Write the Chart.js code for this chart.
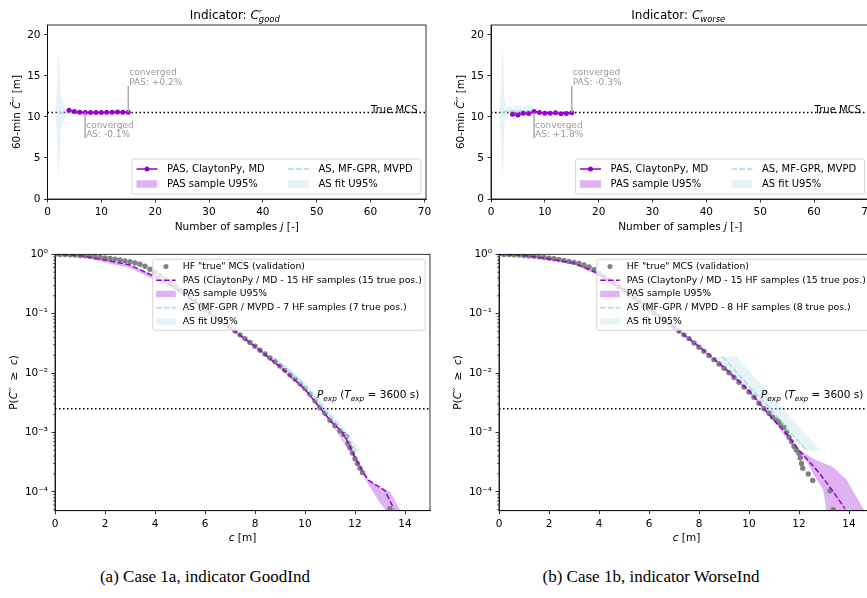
<!DOCTYPE html>
<html>
<head>
<meta charset="utf-8">
<script src="https://cdn.jsdelivr.net/npm/chart.js@4.4.1/dist/chart.umd.min.js"></script>
<style>
  html, body { margin: 0; padding: 0; background: #fff; width: 867px; height: 598px; overflow: hidden; position: relative; }
  canvas { position: absolute; }
  .cap { position: absolute; top: 567px; font-family: "Liberation Serif", "DejaVu Serif", serif; font-size: 17px; color: #000; white-space: nowrap; transform: translateX(-50%); }
</style>
</head>
<body>
<canvas id="convGood" width="440" height="240" style="left:0;top:0"></canvas>
<canvas id="convWorse" width="440" height="240" style="left:440px;top:0"></canvas>
<canvas id="tailGood" width="440" height="320" style="left:0;top:240px"></canvas>
<canvas id="tailWorse" width="440" height="320" style="left:440px;top:240px"></canvas>
<div class="cap" style="left:205px">(a) Case 1a, indicator GoodInd</div>
<div class="cap" style="left:651px">(b) Case 1b, indicator WorseInd</div>
<script>
// Upper row: 60-min estimate vs number of HF samples
const jTicks = [0, 10, 20, 30, 40, 50, 60, 70];
const estTicks = [0, 5, 10, 15, 20];

const convGoodPasJ = [4, 5, 6, 7, 8, 9, 10, 11, 12, 13, 14, 15];
const convGoodPasV = [10.8, 10.65, 10.58, 10.55, 10.55, 10.55, 10.55, 10.56, 10.58, 10.6, 10.57, 10.57];
const convGoodAsJ = [2, 3, 4, 5, 6, 7];
const convGoodAsV = [10.55, 10.5, 10.48, 10.45, 10.5, 10.54];
const convGoodBandJ = [1.39, 1.7, 1.89, 2.0, 2.2, 2.45, 3.56, 7, 7, 3.56, 2.45, 2.2, 2.0, 1.89, 1.7, 1.39];
const convGoodBandV = [10.6, 12.5, 16.5, 18.4, 16.5, 12.5, 10.68, 10.65, 10.45, 10.42, 8.6, 4.6, 2.7, 4.6, 8.6, 10.5];
const convGoodTrue = 10.55;
const convGoodAsMark = [7, 7.4];
const convGoodPasMark = [15, 13.8];

const convWorsePasJ = [4, 5, 6, 7, 8, 9, 10, 11, 12, 13, 14, 15];
const convWorsePasV = [10.33, 10.22, 10.45, 10.42, 10.65, 10.53, 10.45, 10.45, 10.5, 10.4, 10.42, 10.52];
const convWorseAsJ = [2, 3, 4, 5, 6, 7, 8];
const convWorseAsV = [10.55, 10.72, 10.72, 10.73, 10.73, 10.74, 10.74];
const convWorseBandJ = [1.5, 1.8, 1.95, 2.1, 2.3, 2.5, 2.9, 7.8, 8.0, 8.0, 7.8, 2.9, 2.5, 2.3, 2.1, 1.95, 1.8, 1.5];
const convWorseBandV = [10.6, 12.5, 16.5, 18.4, 16.5, 12.0, 11.35, 11.35, 10.9, 10.55, 10.15, 10.1, 9.4, 4.6, 2.7, 4.6, 8.6, 10.5];
const convWorseTrue = 10.55;
const convWorseAsMark = [8, 7.4];
const convWorsePasMark = [15, 13.8];

// Lower row: exceedance probability curves
const cTicks = [0, 2, 4, 6, 8, 10, 12, 14];
const pTicks = [1e-4, 1e-3, 1e-2, 1e-1, 1];
const pTickLabels = ['10\u207B\u2074', '10\u207B\u00B3', '10\u207B\u00B2', '10\u207B\u00B9', '10\u2070'];
const pExp = 0.0025;

const goodMcsC = [0, 0.2, 0.4, 0.6, 0.8, 1, 1.2, 1.4, 1.6, 1.8, 2, 2.2, 2.4, 2.6, 2.8, 3, 3.2, 3.4, 3.6, 3.8,
  4, 4.2, 4.4, 4.6, 4.8, 5, 5.2, 5.4, 5.6, 5.8, 6, 6.2, 6.4, 6.6, 6.8, 7, 7.2, 7.4, 7.6, 7.8,
  8, 8.2, 8.4, 8.6, 8.8, 9, 9.2, 9.4, 9.6, 9.8, 10, 10.2, 10.4, 10.6, 10.8, 11, 11.2, 11.4,
  11.55, 11.65, 11.72, 11.8, 11.9, 12, 12.1, 12.2, 12.3, 13.4];
const goodMcsP = [1, 0.995, 0.99, 0.982, 0.97, 0.955, 0.942, 0.927, 0.91, 0.89, 0.87, 0.85, 0.83, 0.8, 0.776, 0.748, 0.716, 0.68, 0.63, 0.56,
  0.49, 0.43, 0.38, 0.33, 0.29, 0.25, 0.216, 0.186, 0.16, 0.138, 0.119, 0.102, 0.089, 0.078, 0.068, 0.059, 0.051, 0.044, 0.038, 0.0327,
  0.0282, 0.0243, 0.0209, 0.018, 0.0155, 0.0132, 0.0111, 0.0093, 0.0079, 0.0066, 0.0055, 0.0044, 0.0034, 0.0026, 0.0021, 0.0016, 0.0013, 0.00105,
  0.00092, 0.00085, 0.00065, 0.00055, 0.00045, 0.00036, 0.0003, 0.00025, 0.00021, 0.000052];
const goodPasC = [0, 1, 2, 3, 4, 5, 6, 7, 8, 9, 10, 10.6, 11, 11.5, 11.7, 12, 12.3, 12.55, 13.2, 13.55];
const goodPasP = [1, 0.95, 0.8, 0.66, 0.42, 0.24, 0.118, 0.058, 0.028, 0.0128, 0.0053, 0.0026, 0.0016, 0.001, 0.0007, 0.00038, 0.00022, 0.000155, 0.000105, 0.000052];
const goodPasBandC = [0, 1, 2, 3, 4, 5, 6, 8, 10, 11, 12, 12.5, 13.0, 13.4, 13.8,
  13.8, 13.3, 13.0, 12.5, 12, 11, 10, 8, 6, 5, 4, 3, 2, 1, 0];
const goodPasBandP = [1, 0.965, 0.81, 0.67, 0.43, 0.245, 0.121, 0.0288, 0.0055, 0.00165, 0.0004, 0.000165, 0.000118, 0.0001, 0.00005,
  0.00004, 0.000045, 0.000065, 0.00014, 0.00035, 0.00153, 0.0051, 0.0272, 0.114, 0.225, 0.37, 0.59, 0.73, 0.93, 1];
const goodAsC = [8.8, 9.5, 10.2, 10.9, 11.5, 12.1];
const goodAsP = [0.018, 0.0095, 0.0049, 0.0021, 0.0011, 0.00045];
const goodAsBandC = [8.6, 9.5, 10.2, 10.9, 11.5, 12.15, 12.15, 11.5, 10.9, 10.2, 9.5, 8.9];
const goodAsBandP = [0.02, 0.0112, 0.0058, 0.0025, 0.0013, 0.00055, 0.00042, 0.00095, 0.0018, 0.0042, 0.0082, 0.016];

const worseMcsC = [0, 0.2, 0.4, 0.6, 0.8, 1, 1.2, 1.4, 1.6, 1.8, 2, 2.2, 2.4, 2.6, 2.8, 3, 3.2, 3.4, 3.6, 3.8,
  4, 4.2, 4.4, 4.6, 4.8, 5, 5.2, 5.4, 5.6, 5.8, 6, 6.2, 6.4, 6.6, 6.8, 7, 7.2, 7.4, 7.6, 7.8,
  8, 8.2, 8.4, 8.6, 8.8, 9, 9.2, 9.4, 9.6, 9.8, 10, 10.2, 10.4, 10.6, 10.8, 10.95, 11.1, 11.2, 11.3, 11.4,
  11.5, 11.6, 11.7, 11.8, 11.9, 12, 12.05, 12.1, 12.15, 12.37, 12.55, 13.24, 13.37];
const worseMcsP = [1, 0.995, 0.99, 0.982, 0.97, 0.955, 0.94, 0.924, 0.905, 0.885, 0.862, 0.84, 0.815, 0.788, 0.76, 0.73, 0.7, 0.66, 0.61, 0.55,
  0.48, 0.42, 0.37, 0.325, 0.285, 0.248, 0.215, 0.186, 0.16, 0.138, 0.119, 0.102, 0.089, 0.078, 0.068, 0.059, 0.051, 0.044, 0.038, 0.032,
  0.0272, 0.0232, 0.0198, 0.0168, 0.0142, 0.012, 0.0101, 0.0084, 0.007, 0.0058, 0.0048, 0.0039, 0.0031, 0.0025, 0.0021, 0.0018, 0.0016, 0.00148, 0.00135, 0.00122,
  0.001, 0.00083, 0.0007, 0.00058, 0.0005, 0.00044, 0.00037, 0.0003, 0.00025, 0.0002, 0.000155, 0.000104, 0.00005];
const worsePasC = [0, 1, 2, 3, 4, 5, 6, 7, 8, 9, 10, 10.6, 11, 11.5, 12, 12.17, 12.84, 13.37, 13.84];
const worsePasP = [1, 0.955, 0.84, 0.71, 0.47, 0.25, 0.122, 0.059, 0.028, 0.0125, 0.005, 0.0025, 0.0016, 0.00095, 0.0005, 0.00042, 0.0002, 0.0001, 0.000052];
const worsePasBandC = [0, 1, 2, 3, 4, 5, 6, 8, 10, 11, 11.9, 12.57, 13.37, 13.9, 14.6,
  14.6, 13.1, 13.08, 12.97, 12.64, 12.31, 11.9, 11, 10, 8, 6, 5, 4, 3, 2, 1, 0];
const worsePasBandP = [1, 0.96, 0.845, 0.715, 0.48, 0.255, 0.125, 0.0288, 0.0052, 0.00165, 0.00055, 0.00036, 0.00026, 0.00016, 0.00005,
  0.00004, 0.00004, 0.000053, 0.000107, 0.00018, 0.00032, 0.00048, 0.00153, 0.0048, 0.027, 0.118, 0.24, 0.44, 0.67, 0.8, 0.935, 1];
const worseAsC = [8.95, 9.6, 10.3, 10.9, 11.6, 12.3];
const worseAsP = [0.0188, 0.0093, 0.0044, 0.0024, 0.00107, 0.0005];
const worseAsBandC = [8.65, 9.5, 12.85, 12.25];
const worseAsBandP = [0.0188, 0.0188, 0.0005, 0.0005];

const VIOLET = '#9400d3';
const LBLUE = '#add8e6';
const VIOLET_FILL = 'rgba(148,0,211,0.3)';
const BLUE_FILL = 'rgba(173,216,230,0.3)';
const FONT = '"DejaVu Sans", sans-serif';

Chart.defaults.font.family = FONT;
Chart.defaults.color = '#000';

const zip = (xs, ys) => xs.map((x, i) => ({ x, y: ys[i] }));

function shapeSet(xs, ys, color) {
  return { data: zip(xs, ys), fill: 'shape', backgroundColor: color, borderColor: 'rgba(0,0,0,0)', borderWidth: 0, pointRadius: 0, tension: 0 };
}
function dashSet(xs, ys, color) {
  return { data: zip(xs, ys), fill: false, borderColor: color, borderWidth: 1.5, borderDash: [5.5, 2.4], pointRadius: 0, tension: 0 };
}
function dotSet(xs, ys) {
  return { data: zip(xs, ys), showLine: false, pointRadius: 2.7, pointBackgroundColor: '#808080', pointBorderColor: '#808080', pointBorderWidth: 0 };
}
function markLineSet(xs, ys) {
  return { data: zip(xs, ys), fill: false, borderColor: VIOLET, borderWidth: 1.5, pointRadius: 2.5,
    pointBackgroundColor: VIOLET, pointBorderColor: VIOLET, pointBorderWidth: 0, tension: 0 };
}

function axis(type, min, max, vals, size, horizontal, labelFn) {
  return {
    type, min, max,
    afterBuildTicks: s => { s.ticks = vals.map(v => ({ value: v })); },
    afterFit: s => { if (horizontal) s.height = size; else s.width = size; },
    grid: { display: true, drawOnChartArea: false, drawTicks: true, tickLength: 3.5, tickWidth: 0.8, tickColor: '#000' },
    border: { display: true, color: '#000', width: 0.8 },
    ticks: { padding: 3.5, color: '#000', font: { size: 10.5 }, maxRotation: 0, autoSkip: false, callback: labelFn }
  };
}

// mixed-style text: parts {t, i: italic, s: -1 sub / 1 sup, k: keep x}
function partFont(p, size) {
  return (p.i ? 'italic ' : '') + (p.s ? size * 0.7 : size) + 'px ' + FONT;
}
function richWidth(ctx, parts, size) {
  let w = 0;
  for (const p of parts) {
    ctx.font = partFont(p, size);
    if (!p.k) w += ctx.measureText(p.t).width;
  }
  return w;
}
function drawRich(ctx, parts, x, y, size, align) {
  let cx = x;
  if (align === 'center') cx -= richWidth(ctx, parts, size) / 2;
  ctx.textAlign = 'left';
  ctx.textBaseline = 'alphabetic';
  for (const p of parts) {
    ctx.font = partFont(p, size);
    const dy = p.s === -1 ? size * 0.28 : p.s === 1 ? -size * 0.42 : 0;
    ctx.fillText(p.t, cx, y + dy);
    if (!p.k) cx += ctx.measureText(p.t).width;
  }
}
function drawRotated(ctx, parts, x, y, size) {
  ctx.save();
  ctx.translate(x, y);
  ctx.rotate(-Math.PI / 2);
  drawRich(ctx, parts, 0, size * 0.36, size, 'center');
  ctx.restore();
}

function frame(ctx, a) {
  ctx.save();
  ctx.strokeStyle = '#000';
  ctx.lineWidth = 0.8;
  ctx.strokeRect(a.left, a.top, a.right - a.left, a.bottom - a.top);
  ctx.restore();
}

function legendBox(ctx, x, y, w, h) {
  ctx.save();
  ctx.fillStyle = 'rgba(255,255,255,0.8)';
  ctx.strokeStyle = '#cccccc';
  ctx.lineWidth = 0.8;
  ctx.beginPath();
  ctx.roundRect(x, y, w, h, 2);
  ctx.fill();
  ctx.stroke();
  ctx.restore();
}

function drawHandle(ctx, kind, x0, x1, yc, patchH) {
  ctx.save();
  const mid = (x0 + x1) / 2;
  if (kind === 'vline') {
    ctx.strokeStyle = VIOLET; ctx.lineWidth = 1.5;
    ctx.beginPath(); ctx.moveTo(x0, yc); ctx.lineTo(x1, yc); ctx.stroke();
    ctx.fillStyle = VIOLET;
    ctx.beginPath(); ctx.arc(mid, yc, 2.5, 0, Math.PI * 2); ctx.fill();
  } else if (kind === 'vdash' || kind === 'bdash') {
    ctx.strokeStyle = kind === 'vdash' ? VIOLET : LBLUE; ctx.lineWidth = 1.5;
    ctx.setLineDash([5.5, 2.4]);
    ctx.beginPath(); ctx.moveTo(x0, yc); ctx.lineTo(x1, yc); ctx.stroke();
  } else if (kind === 'vpatch' || kind === 'bpatch') {
    ctx.fillStyle = kind === 'vpatch' ? VIOLET_FILL : BLUE_FILL;
    ctx.fillRect(x0, yc - patchH / 2, x1 - x0, patchH);
  } else if (kind === 'dot') {
    ctx.fillStyle = '#808080';
    ctx.beginPath(); ctx.arc(mid, yc, 2.5, 0, Math.PI * 2); ctx.fill();
  }
  ctx.restore();
}

function legendText(ctx, text, x, yc, size) {
  ctx.fillStyle = '#000';
  ctx.font = size + 'px ' + FONT;
  ctx.textAlign = 'left';
  ctx.textBaseline = 'middle';
  ctx.fillText(text, x, yc);
}

const labelEst = [{ t: '60-min ' }, { t: 'C\u0303\u2032\u2032', i: 1 }, { t: ' [m]' }];
const labelSamples = [{ t: 'Number of samples ' }, { t: 'j', i: 1 }, { t: ' [-]' }];
const labelProb = [{ t: 'P(' }, { t: 'C\u2032\u2032', i: 1 }, { t: '  \u2265  ' }, { t: 'c', i: 1 }, { t: ')' }];
const labelC = [{ t: 'c', i: 1 }, { t: ' [m]' }];
const labelPexp = [{ t: 'P', i: 1 }, { t: 'exp', i: 1, s: -1 }, { t: ' (' }, { t: 'T', i: 1 }, { t: 'exp', i: 1, s: -1 }, { t: ' = 3600 s)' }];

function convDeco(p) {
  return {
    id: 'convDeco',
    beforeDatasetsDraw(chart) {
      const { ctx, chartArea: a, scales: { y } } = chart;
      const ty = y.getPixelForValue(p.trueVal);
      ctx.save();
      ctx.strokeStyle = '#000'; ctx.lineWidth = 1.5; ctx.setLineDash([1.5, 2.5]);
      ctx.beginPath(); ctx.moveTo(a.left, ty); ctx.lineTo(a.right, ty); ctx.stroke();
      ctx.restore();
    },
    afterDatasetsDraw(chart) {
      const { ctx, chartArea: a, scales: { x, y } } = chart;
      const ty = y.getPixelForValue(p.trueVal);
      ctx.save();
      ctx.fillStyle = '#000';
      ctx.font = '10px ' + FONT;
      ctx.textAlign = 'right';
      ctx.textBaseline = 'alphabetic';
      ctx.fillText('True MCS', a.right - 8.5, ty + 0.5);
      // convergence markers with their notes
      for (const [mark, note] of [[p.asMark, p.asNote], [p.pasMark, p.pasNote]]) {
        const mx = x.getPixelForValue(mark[0]);
        const my = y.getPixelForValue(mark[1]);
        ctx.strokeStyle = '#aaaaaa'; ctx.lineWidth = 1.5;
        ctx.beginPath(); ctx.moveTo(mx, ty); ctx.lineTo(mx, my); ctx.stroke();
        ctx.fillStyle = '#999999';
        ctx.font = '9px ' + FONT;
        ctx.textAlign = 'left';
        ctx.textBaseline = 'alphabetic';
        ctx.fillText('converged', mx + 1, my - 10.5);
        ctx.fillText(note, mx + 1, my - 1);
      }
      ctx.restore();
    },
    afterDraw(chart) {
      const { ctx, chartArea: a } = chart;
      frame(ctx, a);
      ctx.save();
      ctx.fillStyle = '#000';
      drawRich(ctx, [{ t: 'Indicator: ' }, { t: 'C', i: 1 }, { t: '\u2032', i: 1, k: 1 }, { t: p.sub, i: 1, s: -1 }],
        (a.left + a.right) / 2 - 2, a.top - 6, 12, 'center');
      drawRich(ctx, labelSamples, (a.left + a.right) / 2, a.bottom + 31, 10.5, 'center');
      drawRotated(ctx, labelEst, a.left - 31, (a.top + a.bottom) / 2, 10.5);
      // legend, lower right
      const bw = 289, bh = 35;
      const bx = a.right - 5 - bw, by = a.bottom - 5 - bh;
      legendBox(ctx, bx, by, bw, bh);
      const rows = [[bx + 4.5, by + 10, 'vline', 'PAS, ClaytonPy, MD'], [bx + 156, by + 10, 'bdash', 'AS, MF-GPR, MVPD'],
        [bx + 4.5, by + 25, 'vpatch', 'PAS sample U95%'], [bx + 156, by + 25, 'bpatch', 'AS fit U95%']];
      for (const [hx, hy, kind, text] of rows) {
        drawHandle(ctx, kind, hx, hx + 21, hy, 7.5);
        legendText(ctx, text, hx + 30.5, hy, 10);
      }
      ctx.restore();
    }
  };
}

function tailDeco(p) {
  return {
    id: 'tailDeco',
    beforeDatasetsDraw(chart) {
      const { ctx, chartArea: a, scales: { y } } = chart;
      const py = y.getPixelForValue(pExp);
      ctx.save();
      ctx.strokeStyle = '#000'; ctx.lineWidth = 1.5; ctx.setLineDash([1.5, 2.5]);
      ctx.beginPath(); ctx.moveTo(a.left, py); ctx.lineTo(a.right, py); ctx.stroke();
      ctx.restore();
    },
    afterDraw(chart) {
      const { ctx, chartArea: a, scales: { x, y } } = chart;
      frame(ctx, a);
      ctx.save();
      // minor ticks of the log axis
      ctx.strokeStyle = '#000'; ctx.lineWidth = 0.6;
      for (let e = -5; e < 0; e++) {
        for (let m = 2; m <= 9; m++) {
          const v = m * Math.pow(10, e);
          if (v < y.min || v > y.max) continue;
          const py = y.getPixelForValue(v);
          ctx.beginPath(); ctx.moveTo(a.left - 2, py); ctx.lineTo(a.left, py); ctx.stroke();
        }
      }
      ctx.fillStyle = '#000';
      drawRich(ctx, labelPexp, x.getPixelForValue(10.48), y.getPixelForValue(pExp) - 11, 10.5, 'left');
      drawRich(ctx, labelC, (a.left + a.right) / 2, a.bottom + 30, 10.5, 'center');
      drawRotated(ctx, labelProb, a.left - 42, (a.top + a.bottom) / 2, 10.5);
      // legend, upper right
      const bw = 272.3, bh = 71;
      const bx = a.right - 5 - bw, by = a.top + 5;
      legendBox(ctx, bx, by, bw, bh);
      const rows = [['dot', 'HF "true" MCS (validation)'],
        ['vdash', 'PAS (ClaytonPy / MD - 15 HF samples (15 true pos.)'],
        ['vpatch', 'PAS sample U95%'],
        ['bdash', p.asLabel],
        ['bpatch', 'AS fit U95%']];
      rows.forEach(([kind, text], i) => {
        const yc = by + 7.3 + i * 13.7;
        drawHandle(ctx, kind, bx + 3.5, bx + 23, yc, 6.5);
        legendText(ctx, text, bx + 30, yc, 9.3);
      });
      ctx.restore();
    }
  };
}

function convChart(id, pas, as, band, deco, yWidth, padRight) {
  return new Chart(document.getElementById(id), {
    type: 'line',
    data: {
      datasets: [
        markLineSet(pas[0], pas[1]),
        dashSet(as[0], as[1], LBLUE),
        shapeSet(band[0], band[1], BLUE_FILL)
      ]
    },
    options: {
      responsive: false, animation: false, devicePixelRatio: 1, events: [],
      layout: { padding: { left: 0, right: padRight, top: 25, bottom: 21 } },
      plugins: { legend: { display: false }, tooltip: { enabled: false } },
      scales: {
        x: axis('linear', 0, 70.3, jTicks, 20, true, v => String(v)),
        y: axis('linear', 0, 21.2, estTicks, yWidth, false, v => String(v))
      }
    },
    plugins: [deco]
  });
}

function tailChart(id, mcs, pas, pasBand, as, asBand, deco, yWidth, padRight) {
  return new Chart(document.getElementById(id), {
    type: 'line',
    data: {
      datasets: [
        dashSet(pas[0], pas[1], VIOLET),
        dashSet(as[0], as[1], LBLUE),
        dotSet(mcs[0], mcs[1]),
        shapeSet(asBand[0], asBand[1], BLUE_FILL),
        shapeSet(pasBand[0], pasBand[1], VIOLET_FILL)
      ]
    },
    options: {
      responsive: false, animation: false, devicePixelRatio: 1, events: [],
      layout: { padding: { left: 0, right: padRight, top: 14.3, bottom: 29.3 } },
      plugins: { legend: { display: false }, tooltip: { enabled: false } },
      scales: {
        x: axis('linear', 0, 15, cTicks, 20, true, v => String(v)),
        y: axis('logarithmic', 4.8e-5, 1, pTicks, yWidth, false, (v, i) => pTickLabels[i])
      }
    },
    plugins: [deco]
  });
}

convChart('convGood', [convGoodPasJ, convGoodPasV], [convGoodAsJ, convGoodAsV], [convGoodBandJ, convGoodBandV],
  convDeco({ trueVal: convGoodTrue, asMark: convGoodAsMark, pasMark: convGoodPasMark, asNote: 'AS: -0.1%', pasNote: 'PAS: +0.2%', sub: 'good' }),
  47.5, 14);
convChart('convWorse', [convWorsePasJ, convWorsePasV], [convWorseAsJ, convWorseAsV], [convWorseBandJ, convWorseBandV],
  convDeco({ trueVal: convWorseTrue, asMark: convWorseAsMark, pasMark: convWorsePasMark, asNote: 'AS: +1.8%', pasNote: 'PAS: -0.3%', sub: 'worse' }),
  51, 10.5);
tailChart('tailGood', [goodMcsC, goodMcsP], [goodPasC, goodPasP], [goodPasBandC, goodPasBandP], [goodAsC, goodAsP], [goodAsBandC, goodAsBandP],
  tailDeco({ asLabel: 'AS (MF-GPR / MVPD - 7 HF samples (7 true pos.)' }), 55, 10);
tailChart('tailWorse', [worseMcsC, worseMcsP], [worsePasC, worsePasP], [worsePasBandC, worsePasBandP], [worseAsC, worseAsP], [worseAsBandC, worseAsBandP],
  tailDeco({ asLabel: 'AS (MF-GPR / MVPD - 8 HF samples (8 true pos.)' }), 59, 6);
</script>
</body>
</html>
